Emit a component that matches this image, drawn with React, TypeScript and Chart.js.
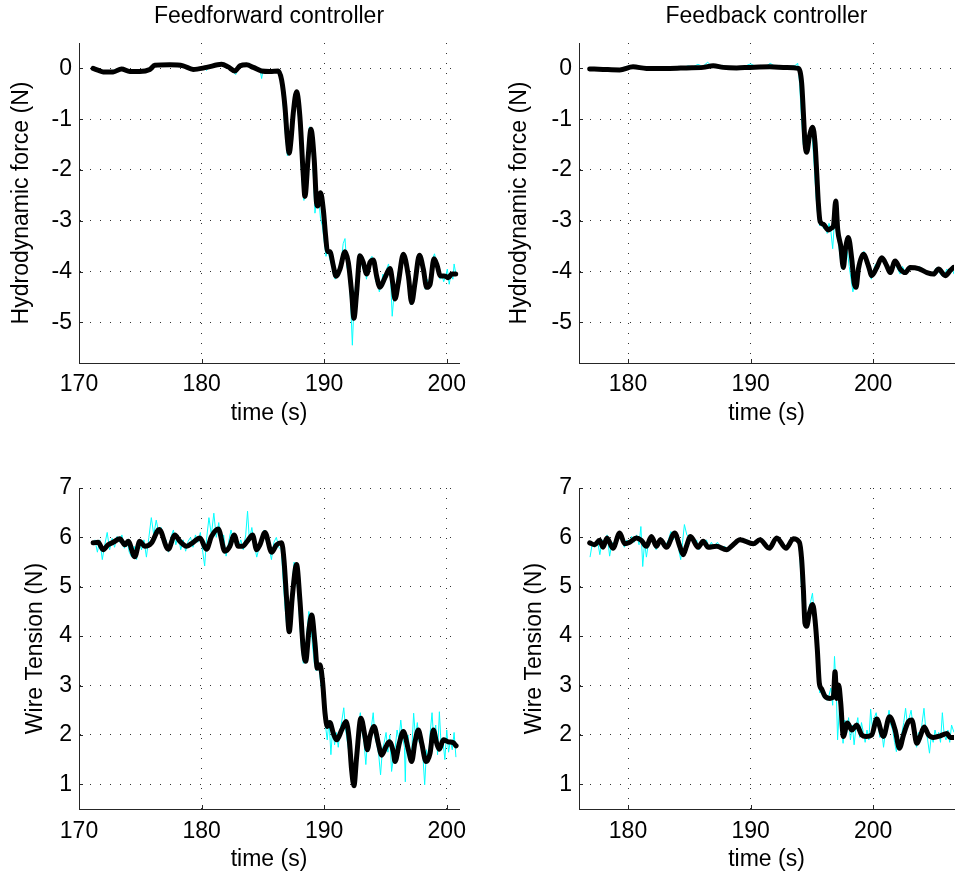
import React, { useEffect, useRef } from "react";
import { Chart, registerables } from "chart.js";

Chart.register(...registerables);

const FONT = "'Liberation Sans', Arial, Helvetica, sans-serif";
const FONT_SIZE = 23;

type Pt = [number, number];

// ---------- tick labels ----------
const ffTimeTicks = [170, 180, 190, 200];
const fbTimeTicks = [180, 190, 200];
const forceTicks = [-5, -4, -3, -2, -1, 0];
const tensionTicks = [1, 2, 3, 4, 5, 6, 7];

// ---------- Feedforward: hydrodynamic force ----------
const ffForceFiltered: Pt[] = [
  [171.15, 0.0], [171.6, -0.04], [171.97, -0.07], [172.4, -0.07], [172.79, -0.07], [173.47, -0.01],
  [174.15, -0.06], [174.96, -0.06], [175.78, -0.02], [176.19, 0.06], [177.41, 0.07], [178.5, 0.05],
  [179.32, -0.02], [180.4, 0.02], [181.63, 0.08], [182.17, 0.03], [182.72, -0.05], [183.13, 0.05],
  [183.67, 0.07], [184.22, 0.02], [184.89, -0.05], [185.58, -0.06], [186.26, -0.05], [186.53, -0.23],
  [186.8, -0.75], [187.0, -1.4], [187.15, -1.67], [187.3, -1.4], [187.48, -0.88], [187.75, -0.46],
  [188.02, -0.95], [188.3, -2.12], [188.43, -2.52], [188.7, -1.73], [188.92, -1.2], [189.19, -1.8],
  [189.38, -2.65], [189.47, -2.71], [189.71, -2.45], [189.93, -2.78], [190.12, -3.3], [190.26, -3.6],
  [190.47, -3.61], [190.75, -3.89], [190.96, -4.09], [191.29, -3.95], [191.7, -3.61], [191.97, -3.82],
  [192.24, -4.41], [192.43, -4.92], [192.65, -4.41], [192.92, -3.69], [193.19, -3.82], [193.47, -4.05],
  [193.74, -3.82], [194.01, -3.77], [194.28, -4.09], [194.55, -4.31], [194.96, -4.12], [195.37, -3.94],
  [195.59, -4.22], [195.78, -4.54], [196.05, -4.22], [196.46, -3.66], [196.87, -4.09], [197.14, -4.61],
  [197.41, -4.22], [197.77, -3.68], [198.09, -3.95], [198.36, -4.31], [198.64, -4.25], [198.96, -3.75],
  [199.23, -3.89], [199.45, -4.08], [199.86, -4.09], [200.13, -4.12], [200.41, -4.05], [200.73, -4.05],
];
const ffForceMeasured: Pt[] = [
  [171.1, 0.01], [171.4, -0.03], [171.7, -0.06], [172.0, -0.05], [172.3, -0.08], [172.6, -0.06],
  [172.9, -0.03], [173.2, -0.02], [173.5, 0.01], [173.8, -0.04], [174.1, -0.07], [174.4, -0.05],
  [174.7, -0.07], [175.0, -0.04], [175.3, -0.05], [175.6, -0.01], [175.9, 0.0], [176.2, 0.07],
  [176.5, 0.05], [176.8, 0.08], [177.1, 0.06], [177.4, 0.09], [177.7, 0.05], [178.0, 0.07],
  [178.3, 0.04], [178.6, 0.06], [178.9, 0.01], [179.2, -0.03], [179.5, 0.0], [179.8, -0.01],
  [180.1, 0.03], [180.4, -0.04], [180.7, 0.05], [181.0, 0.04], [181.3, 0.09], [181.6, 0.11],
  [181.9, 0.06], [182.2, 0.02], [182.5, -0.06], [182.8, -0.12], [183.0, 0.04], [183.3, 0.08],
  [183.6, 0.06], [183.9, 0.1], [184.2, 0.02], [184.5, -0.02], [184.8, -0.07], [184.9, -0.2],
  [185.0, -0.05], [185.3, -0.06], [185.6, -0.08], [185.9, -0.04], [186.2, -0.07], [186.4, -0.15],
  [186.6, -0.55], [186.8, -1.2], [187.0, -1.72], [187.1, -1.6], [187.3, -1.2], [187.5, -0.65],
  [187.65, -0.45], [187.8, -0.6], [188.0, -1.3], [188.2, -2.25], [188.35, -2.6], [188.5, -2.3],
  [188.65, -1.5], [188.8, -1.15], [188.95, -1.3], [189.1, -2.0], [189.25, -2.85], [189.4, -2.55],
  [189.55, -2.5], [189.7, -2.95], [189.85, -3.1], [190.0, -3.4], [190.15, -3.7], [190.3, -3.55],
  [190.45, -3.75], [190.6, -3.85], [190.75, -4.05], [190.9, -4.15], [191.05, -4.0], [191.2, -3.95],
  [191.4, -3.8], [191.55, -3.45], [191.7, -3.35], [191.85, -3.9], [192.0, -4.05], [192.15, -4.55],
  [192.3, -5.45], [192.4, -4.85], [192.55, -4.3], [192.7, -3.95], [192.85, -3.65], [193.0, -3.75],
  [193.15, -3.95], [193.3, -3.85], [193.45, -4.15], [193.6, -3.9], [193.75, -3.75], [193.9, -3.7],
  [194.05, -3.85], [194.2, -4.2], [194.35, -4.2], [194.5, -4.4], [194.65, -4.25], [194.8, -4.05],
  [194.95, -4.2], [195.1, -3.95], [195.25, -3.85], [195.4, -4.05], [195.55, -4.88], [195.7, -4.45],
  [195.85, -4.35], [196.0, -4.05], [196.15, -3.9], [196.3, -3.7], [196.45, -3.62], [196.6, -3.85],
  [196.75, -4.1], [196.9, -4.3], [197.05, -4.65], [197.2, -4.5], [197.35, -4.3], [197.5, -4.0],
  [197.65, -3.7], [197.8, -3.65], [197.95, -3.85], [198.1, -4.05], [198.25, -4.35], [198.4, -4.15],
  [198.55, -4.3], [198.7, -4.1], [198.85, -3.75], [199.0, -3.65], [199.15, -3.8], [199.3, -3.95],
  [199.45, -4.15], [199.6, -4.05], [199.75, -4.2], [199.9, -4.1], [200.05, -3.95], [200.2, -4.25],
  [200.35, -4.05], [200.5, -4.15], [200.6, -3.85], [200.75, -4.05],
];

// ---------- Feedback: hydrodynamic force ----------
const fbForceFiltered: Pt[] = [
  [176.87, -0.01], [177.96, -0.02], [179.32, -0.03], [180.41, 0.03], [181.5, 0.0], [183.41, 0.0],
  [184.77, 0.01], [186.13, 0.02], [186.95, 0.05], [187.77, 0.02], [188.86, 0.01], [189.95, 0.02],
  [191.58, 0.03], [192.94, 0.02], [193.9, 0.0], [194.17, -0.29], [194.31, -0.88], [194.44, -1.47],
  [194.58, -1.65], [194.8, -1.34], [195.07, -1.16], [195.26, -1.47], [195.4, -2.06], [195.53, -2.65],
  [195.67, -3.01], [195.94, -3.07], [196.35, -3.18], [196.62, -3.14], [196.76, -3.1], [196.95, -2.61],
  [197.11, -3.17], [197.36, -3.5], [197.57, -3.92], [197.74, -3.56], [197.98, -3.33], [198.26, -3.76],
  [198.45, -4.22], [198.61, -4.31], [198.8, -3.95], [199.21, -3.66], [199.62, -3.89], [199.89, -4.08],
  [200.3, -3.92], [200.71, -3.73], [201.12, -3.89], [201.39, -4.02], [201.8, -3.79], [202.21, -3.95],
  [202.62, -4.02], [203.02, -3.92], [203.71, -3.94], [204.39, -4.02], [204.93, -4.05], [205.34, -3.95],
  [205.89, -4.08], [206.29, -3.98], [206.55, -3.92],
];
const fbForceMeasured: Pt[] = [
  [176.9, -0.01], [177.3, -0.03], [177.7, 0.0], [178.1, -0.04], [178.5, -0.02], [178.9, -0.04],
  [179.3, -0.02], [179.7, 0.02], [180.1, 0.05], [180.5, 0.02], [180.9, 0.01], [181.3, -0.01],
  [181.7, 0.01], [182.1, -0.01], [182.5, 0.02], [182.9, 0.0], [183.3, 0.03], [183.7, 0.01],
  [184.1, 0.04], [184.5, 0.02], [184.9, 0.05], [185.3, 0.03], [185.7, 0.08], [186.1, 0.04],
  [186.5, 0.12], [186.8, 0.05], [187.1, 0.08], [187.4, 0.03], [187.7, 0.06], [188.0, 0.02],
  [188.4, 0.04], [188.8, 0.01], [189.2, 0.03], [189.6, 0.05], [190.0, 0.09], [190.4, 0.04],
  [190.8, 0.06], [191.2, 0.03], [191.6, 0.1], [192.0, 0.04], [192.4, 0.06], [192.8, 0.02],
  [193.2, 0.04], [193.6, 0.05], [193.85, 0.1], [194.0, -0.3], [194.15, -0.95], [194.3, -1.5],
  [194.45, -1.6], [194.6, -1.55], [194.75, -1.3], [194.9, -1.2], [195.05, -1.4], [195.2, -1.95],
  [195.35, -2.55], [195.5, -2.95], [195.65, -3.1], [195.8, -3.05], [195.95, -3.15], [196.1, -3.1],
  [196.25, -3.25], [196.4, -3.05], [196.55, -3.2], [196.7, -3.55], [196.85, -3.0], [197.0, -2.8],
  [197.15, -3.4], [197.3, -3.7], [197.45, -3.95], [197.6, -3.7], [197.75, -3.45], [197.9, -3.6],
  [198.05, -3.9], [198.2, -4.15], [198.35, -4.4], [198.5, -4.2], [198.65, -4.25], [198.8, -3.85],
  [198.95, -3.7], [199.1, -3.75], [199.25, -3.6], [199.4, -3.8], [199.55, -3.95], [199.7, -4.05],
  [199.85, -4.15], [200.0, -4.0], [200.2, -3.85], [200.4, -3.9], [200.6, -3.7], [200.8, -3.8],
  [201.0, -3.85], [201.2, -4.0], [201.4, -3.95], [201.6, -3.8], [201.8, -3.85], [202.0, -3.95],
  [202.2, -4.05], [202.4, -3.9], [202.6, -4.0], [202.8, -3.95], [203.0, -3.88], [203.2, -3.95],
  [203.4, -3.92], [203.6, -3.98], [203.8, -3.9], [204.0, -4.0], [204.2, -3.95], [204.4, -4.05],
  [204.6, -4.0], [204.8, -4.08], [205.0, -3.98], [205.2, -3.92], [205.4, -4.02], [205.6, -4.08],
  [205.8, -4.1], [206.0, -3.95], [206.2, -4.0], [206.4, -3.9], [206.6, -4.05],
];

// ---------- Feedforward: wire tension ----------
const ffTensionFiltered: Pt[] = [
  [171.15, 5.89], [171.56, 5.9], [171.97, 5.75], [172.38, 5.85], [172.79, 5.9], [173.33, 5.97],
  [173.74, 5.85], [174.01, 5.92], [174.55, 5.61], [174.96, 5.92], [175.37, 5.82], [175.92, 5.89],
  [176.54, 6.16], [177.28, 5.76], [177.82, 6.05], [178.23, 5.92], [178.77, 5.82], [179.32, 5.9],
  [179.86, 5.99], [180.4, 5.76], [180.81, 6.02], [181.36, 6.17], [181.9, 5.72], [182.31, 5.82],
  [182.66, 6.05], [182.99, 5.82], [183.34, 5.82], [183.81, 5.95], [184.16, 6.05], [184.49, 5.75],
  [184.76, 5.85], [185.17, 6.1], [185.71, 5.7], [186.12, 5.85], [186.53, 5.89], [186.72, 5.55],
  [186.94, 4.74], [187.15, 4.09], [187.4, 4.8], [187.75, 5.45], [188.02, 4.74], [188.3, 3.72],
  [188.49, 3.49], [188.76, 4.13], [188.98, 4.43], [189.25, 3.86], [189.44, 3.35], [189.66, 3.42],
  [189.88, 3.05], [190.07, 2.44], [190.26, 2.17], [190.47, 2.25], [190.75, 2.03], [191.02, 1.9],
  [191.43, 2.1], [191.78, 2.27], [192.05, 1.9], [192.24, 1.29], [192.43, 0.97], [192.65, 1.56],
  [193.0, 2.34], [193.33, 1.97], [193.52, 1.7], [193.74, 1.97], [194.07, 2.17], [194.42, 1.83],
  [194.69, 1.59], [195.04, 1.76], [195.32, 1.86], [195.64, 1.66], [195.78, 1.46], [196.13, 1.83],
  [196.46, 2.07], [196.87, 1.7], [197.14, 1.46], [197.41, 1.86], [197.68, 2.1], [197.96, 1.83],
  [198.31, 1.46], [198.64, 1.63], [198.91, 2.1], [199.18, 1.83], [199.4, 1.71], [199.72, 1.9],
  [200.13, 1.86], [200.54, 1.84], [200.76, 1.78],
];
const ffTensionMeasured: Pt[] = [
  [171.1, 5.85], [171.3, 5.95], [171.5, 5.7], [171.7, 5.95], [171.9, 5.55], [172.1, 5.85],
  [172.3, 6.1], [172.5, 5.75], [172.7, 5.98], [172.9, 5.8], [173.1, 6.02], [173.3, 5.9],
  [173.5, 6.05], [173.7, 5.78], [173.9, 5.95], [174.1, 5.7], [174.3, 5.6], [174.5, 5.82],
  [174.7, 5.55], [174.9, 5.95], [175.1, 5.75], [175.3, 5.95], [175.5, 5.6], [175.7, 6.0],
  [175.9, 6.4], [176.1, 6.05], [176.3, 6.35], [176.5, 6.1], [176.7, 6.2], [176.9, 5.85],
  [177.1, 5.95], [177.3, 5.7], [177.5, 6.0], [177.7, 6.15], [177.9, 5.85], [178.1, 6.05],
  [178.3, 5.75], [178.5, 5.95], [178.7, 5.72], [178.9, 5.92], [179.1, 6.0], [179.3, 5.8],
  [179.5, 6.05], [179.7, 5.9], [179.9, 6.1], [180.1, 5.7], [180.25, 5.42], [180.4, 5.95],
  [180.6, 6.4], [180.8, 6.05], [181.0, 6.49], [181.2, 6.0], [181.4, 6.3], [181.6, 5.85],
  [181.8, 6.05], [182.0, 5.62], [182.2, 5.9], [182.4, 6.15], [182.6, 5.95], [182.8, 6.0],
  [183.0, 5.8], [183.2, 5.95], [183.4, 5.75], [183.6, 6.05], [183.75, 6.53], [183.9, 5.95],
  [184.1, 6.2], [184.3, 5.85], [184.5, 5.6], [184.7, 5.8], [184.9, 6.0], [185.1, 6.15],
  [185.3, 5.9], [185.5, 5.8], [185.7, 5.55], [185.9, 5.9], [186.1, 6.0], [186.3, 5.8],
  [186.5, 5.75], [186.65, 5.15], [186.8, 4.6], [186.95, 4.2], [187.1, 4.15], [187.25, 4.55],
  [187.4, 5.1], [187.55, 5.5], [187.7, 5.3], [187.85, 4.9], [188.0, 4.3], [188.15, 3.75],
  [188.3, 3.45], [188.45, 3.6], [188.6, 4.1], [188.75, 4.5], [188.9, 4.3], [189.05, 3.8],
  [189.2, 3.45], [189.35, 3.3], [189.5, 3.5], [189.65, 3.2], [189.8, 2.9], [189.95, 2.5],
  [190.1, 2.2], [190.25, 1.9], [190.4, 2.3], [190.55, 1.6], [190.7, 2.15], [190.85, 1.8],
  [191.0, 2.05], [191.15, 1.75], [191.3, 2.1], [191.45, 2.3], [191.6, 2.55], [191.75, 2.1],
  [191.9, 1.85], [192.05, 1.6], [192.2, 1.25], [192.35, 1.02], [192.5, 1.3], [192.65, 1.8],
  [192.8, 2.2], [192.95, 2.45], [193.1, 2.05], [193.25, 1.85], [193.4, 1.4], [193.55, 1.95],
  [193.7, 1.75], [193.85, 2.15], [194.0, 2.45], [194.15, 1.95], [194.3, 1.8], [194.45, 1.6],
  [194.6, 1.19], [194.75, 1.7], [194.9, 1.85], [195.05, 2.05], [195.2, 1.65], [195.35, 2.0],
  [195.5, 1.26], [195.65, 1.55], [195.8, 1.75], [195.95, 2.1], [196.1, 1.9], [196.25, 2.3],
  [196.4, 1.95], [196.55, 1.75], [196.62, 1.05], [196.7, 1.95], [196.85, 2.0], [197.0, 1.55],
  [197.15, 1.7], [197.3, 2.44], [197.45, 1.95], [197.6, 2.25], [197.75, 1.85], [197.9, 2.05],
  [198.05, 1.6], [198.2, 0.99], [198.35, 1.7], [198.5, 1.45], [198.65, 2.05], [198.8, 2.45],
  [198.95, 1.85], [199.1, 2.2], [199.25, 1.6], [199.4, 2.47], [199.55, 1.75], [199.7, 1.85],
  [199.85, 1.5], [200.0, 2.1], [200.15, 1.65], [200.3, 1.9], [200.45, 1.7], [200.6, 2.05],
  [200.75, 1.55],
];

// ---------- Feedback: wire tension ----------
const fbTensionFiltered: Pt[] = [
  [176.87, 5.89], [177.28, 5.85], [177.68, 5.94], [177.96, 5.8], [178.28, 5.99], [178.77, 5.78],
  [179.32, 6.09], [179.73, 5.87], [180.14, 5.9], [180.68, 5.99], [181.09, 5.94], [181.5, 5.82],
  [181.91, 6.02], [182.32, 5.82], [182.64, 5.95], [183.13, 5.8], [183.81, 6.09], [184.22, 5.82],
  [184.5, 5.65], [184.77, 5.82], [185.1, 6.02], [185.72, 5.8], [186.13, 5.92], [186.54, 5.8],
  [187.22, 5.82], [188.04, 5.75], [188.58, 5.85], [189.13, 5.95], [190.22, 5.87], [190.76, 5.95],
  [191.53, 5.78], [192.13, 5.99], [192.89, 5.78], [193.49, 5.97], [193.98, 5.9], [194.17, 5.55],
  [194.31, 4.94], [194.44, 4.26], [194.58, 4.2], [194.8, 4.47], [195.07, 4.64], [195.26, 4.33],
  [195.45, 3.72], [195.61, 3.05], [195.8, 2.93], [196.08, 2.78], [196.49, 2.74], [196.76, 2.78],
  [196.89, 3.28], [197.03, 2.74], [197.19, 3.01], [197.36, 2.64], [197.57, 1.97], [197.9, 2.24],
  [198.26, 2.1], [198.66, 2.2], [199.07, 2.0], [199.43, 1.97], [199.89, 2.0], [200.3, 2.32],
  [200.84, 1.97], [201.34, 2.37], [201.8, 2.1], [202.15, 1.73], [202.48, 2.0], [202.89, 2.27],
  [203.16, 2.3], [203.57, 1.83], [203.84, 1.97], [204.17, 2.16], [204.52, 2.0], [204.93, 1.95],
  [205.48, 1.98], [206.02, 2.03], [206.29, 1.95], [206.6, 1.95],
];
const fbTensionMeasured: Pt[] = [
  [176.9, 5.6], [177.1, 5.9], [177.3, 5.8], [177.5, 5.95], [177.7, 5.65], [177.9, 5.95],
  [178.1, 5.85], [178.3, 6.05], [178.5, 5.62], [178.7, 5.9], [178.9, 5.8], [179.1, 6.0],
  [179.3, 6.12], [179.5, 5.95], [179.7, 5.8], [179.9, 5.95], [180.1, 5.85], [180.3, 6.02],
  [180.5, 5.9], [180.7, 6.05], [180.9, 5.85], [181.05, 6.22], [181.2, 5.41], [181.35, 5.9],
  [181.5, 5.6], [181.7, 5.95], [181.9, 6.05], [182.1, 5.85], [182.3, 5.75], [182.5, 5.95],
  [182.7, 5.9], [182.9, 5.8], [183.1, 5.85], [183.3, 5.95], [183.5, 6.12], [183.7, 5.95],
  [183.9, 6.1], [184.1, 5.8], [184.3, 5.55], [184.45, 5.9], [184.6, 6.26], [184.8, 6.05],
  [185.0, 6.0], [185.2, 5.95], [185.4, 5.85], [185.6, 5.95], [185.8, 5.75], [186.0, 5.9],
  [186.2, 5.85], [186.4, 5.95], [186.6, 5.8], [186.8, 5.9], [187.0, 5.82], [187.3, 5.9],
  [187.6, 5.78], [187.9, 5.82], [188.2, 5.72], [188.5, 5.85], [188.8, 5.9], [189.1, 5.98],
  [189.4, 5.92], [189.7, 5.95], [190.0, 5.9], [190.3, 5.85], [190.6, 5.92], [190.9, 5.98],
  [191.2, 5.9], [191.5, 5.8], [191.8, 5.9], [192.1, 6.02], [192.4, 5.9], [192.7, 5.8],
  [193.0, 5.85], [193.3, 5.98], [193.6, 5.95], [193.85, 5.98], [194.0, 5.7], [194.15, 5.0],
  [194.3, 4.4], [194.45, 4.25], [194.6, 4.35], [194.75, 4.55], [194.9, 4.7], [195.05, 4.87],
  [195.2, 4.45], [195.35, 3.8], [195.5, 3.1], [195.65, 2.85], [195.8, 2.9], [195.95, 2.75],
  [196.1, 2.85], [196.25, 2.7], [196.4, 2.8], [196.55, 2.95], [196.7, 2.6], [196.85, 3.59],
  [197.0, 2.85], [197.1, 1.9], [197.25, 2.54], [197.4, 2.2], [197.55, 1.83], [197.7, 2.3],
  [197.85, 2.05], [198.0, 2.35], [198.15, 1.9], [198.3, 2.2], [198.45, 1.8], [198.6, 2.15],
  [198.75, 2.35], [198.9, 1.95], [199.05, 2.25], [199.2, 2.05], [199.35, 1.85], [199.5, 2.1],
  [199.65, 1.9], [199.8, 2.52], [199.95, 2.1], [200.1, 2.35], [200.25, 2.45], [200.4, 2.2],
  [200.55, 1.95], [200.7, 2.1], [200.85, 1.75], [201.0, 2.05], [201.15, 2.3], [201.3, 2.5],
  [201.45, 2.2], [201.6, 2.1], [201.75, 1.85], [201.9, 1.66], [202.05, 1.95], [202.2, 1.8],
  [202.35, 2.05], [202.5, 2.25], [202.65, 2.54], [202.8, 2.2], [202.95, 2.35], [203.1, 2.5],
  [203.25, 2.2], [203.4, 1.9], [203.55, 1.75], [203.7, 2.05], [203.85, 1.9], [204.0, 2.25],
  [204.15, 2.54], [204.3, 2.1], [204.45, 1.9], [204.6, 1.63], [204.75, 2.0], [204.9, 1.85],
  [205.05, 2.1], [205.2, 1.95], [205.35, 2.05], [205.5, 1.85], [205.65, 2.45], [205.8, 2.0],
  [205.95, 1.9], [206.1, 2.1], [206.25, 1.85], [206.4, 2.2], [206.6, 2.05],
];

// ---------- layout ----------
const CW = 478;
const CH = 437;

type PanelProps = {
  left: number;
  top: number;
  title?: string;
  yLabel: string;
  xMin: number;
  xMax: number;
  yMin: number;
  yMax: number;
  xTicks: number[];
  yTicks: number[];
  measured: Pt[];
  filtered: Pt[];
  area: { l: number; t: number; r: number; b: number };
  yTitleOffset: number;
  xTickPad: number;
  xTitleCenter: number;
};

const AXIS_COLOR = "#262626";

const insideTicks = {
  id: "insideTicks",
  beforeDatasetsDraw(chart: any) {
    const { ctx, chartArea: a, scales } = chart;
    const x = scales.x;
    const y = scales.y;
    ctx.save();
    ctx.strokeStyle = AXIS_COLOR;
    ctx.lineWidth = 1;
    ctx.beginPath();
    x.ticks.forEach((t: any) => {
      const px = Math.round(x.getPixelForValue(t.value)) + 0.5;
      ctx.moveTo(px, a.bottom);
      ctx.lineTo(px, a.bottom - 4);
    });
    y.ticks.forEach((t: any) => {
      const py = Math.round(y.getPixelForValue(t.value)) + 0.5;
      ctx.moveTo(a.left, py);
      ctx.lineTo(a.left + 4, py);
    });
    ctx.stroke();
    ctx.restore();
  },
};

const panelTitle = {
  id: "panelTitle",
  afterDraw(chart: any, _args: any, opts: any) {
    if (!opts || !opts.text) return;
    const { ctx, chartArea: a } = chart;
    ctx.save();
    ctx.font = `normal ${FONT_SIZE}px ${FONT}`;
    ctx.fillStyle = "#000";
    ctx.textAlign = "center";
    ctx.textBaseline = "middle";
    ctx.fillText(opts.text, (a.left + a.right) / 2, opts.y);
    ctx.restore();
  },
};

function toXY(a: Pt[]) {
  return a.map(([x, y]) => ({ x, y }));
}

function Panel(p: PanelProps) {
  const ref = useRef<HTMLCanvasElement>(null);
  useEffect(() => {
    const canvas = ref.current;
    if (!canvas) return;
    const font = { family: FONT, size: FONT_SIZE, weight: "normal" as const, lineHeight: 1.2 };
    const lh = FONT_SIZE * 1.2;
    const chart = new Chart(canvas, {
      type: "line",
      data: {
        datasets: [
          {
            data: toXY(p.measured),
            borderColor: "#00FFFF",
            borderWidth: 1,
            pointRadius: 0,
            tension: 0,
            order: 2,
          },
          {
            data: toXY(p.filtered),
            borderColor: "#000000",
            borderWidth: 5,
            pointRadius: 0,
            cubicInterpolationMode: "monotone",
            borderJoinStyle: "round",
            borderCapStyle: "round",
            order: 1,
          },
        ],
      },
      options: {
        responsive: false,
        animation: false,
        devicePixelRatio: 1,
        events: [],
        layout: {
          padding: { left: 0, right: CW - p.area.r, top: p.area.t, bottom: 0 },
        },
        plugins: {
          legend: { display: false },
          tooltip: { enabled: false },
          title: { display: false },
          panelTitle: { text: p.title || "", y: 16.5 },
        },
        scales: {
          x: {
            type: "linear",
            min: p.xMin,
            max: p.xMax,
            afterBuildTicks: (s: any) => {
              s.ticks = p.xTicks.map((v) => ({ value: v }));
            },
            afterFit: (s: any) => {
              s.height = CH - p.area.b;
            },
            ticks: {
              color: "#000",
              font,
              padding: p.xTickPad,
              maxRotation: 0,
              autoSkip: false,
              callback: (v: any) => String(v),
            },
            grid: { color: "#333", lineWidth: 1, drawTicks: false },
            border: { display: true, color: AXIS_COLOR, width: 1, dash: [1, 9] },
            title: {
              display: true,
              text: "time (s)",
              color: "#000",
              font,
              padding: { top: 0, bottom: CH - p.xTitleCenter - lh / 2 },
            },
          },
          y: {
            type: "linear",
            min: p.yMin,
            max: p.yMax,
            afterBuildTicks: (s: any) => {
              s.ticks = p.yTicks.map((v) => ({ value: v }));
            },
            afterFit: (s: any) => {
              s.width = p.area.l;
            },
            ticks: {
              color: "#000",
              font,
              padding: 7,
              autoSkip: false,
              callback: (v: any) => String(v),
            },
            grid: { color: "#333", lineWidth: 1, drawTicks: false },
            border: { display: true, color: AXIS_COLOR, width: 1, dash: [1, 9] },
            title: {
              display: true,
              text: p.yLabel,
              color: "#000",
              font,
              padding: { top: p.yTitleOffset, bottom: 0 },
            },
          },
        },
      },
      plugins: [insideTicks, panelTitle],
    } as any);
    return () => chart.destroy();
  }, []);
  return (
    <canvas
      ref={ref}
      width={CW}
      height={CH}
      style={{ position: "absolute", left: p.left, top: p.top, width: CW, height: CH }}
    />
  );
}

export default function App() {
  return (
    <div
      style={{
        position: "absolute",
        left: 0,
        top: 0,
        width: 956,
        height: 874,
        background: "#fff",
        overflow: "hidden",
      }}
    >
      <Panel
        left={0}
        top={0}
        title="Feedforward controller"
        yLabel="Hydrodynamic force (N)"
        xMin={170}
        xMax={201}
        yMin={-5.8}
        yMax={0.5}
        xTicks={ffTimeTicks}
        yTicks={forceTicks}
        measured={ffForceMeasured}
        filtered={ffForceFiltered}
        area={{ l: 79, t: 43, r: 459, b: 363 }}
        yTitleOffset={8.2}
        xTickPad={8}
        xTitleCenter={413.3}
      />
      <Panel
        left={478}
        top={0}
        title="Feedback controller"
        yLabel="Hydrodynamic force (N)"
        xMin={176}
        xMax={206.6}
        yMin={-5.8}
        yMax={0.5}
        xTicks={fbTimeTicks}
        yTicks={forceTicks}
        measured={fbForceMeasured}
        filtered={fbForceFiltered}
        area={{ l: 101, t: 43, r: 476, b: 363 }}
        yTitleOffset={28}
        xTickPad={8}
        xTitleCenter={413.3}
      />
      <Panel
        left={0}
        top={437}
        yLabel="Wire Tension (N)"
        xMin={170}
        xMax={201}
        yMin={0.5}
        yMax={7}
        xTicks={ffTimeTicks}
        yTicks={tensionTicks}
        measured={ffTensionMeasured}
        filtered={ffTensionFiltered}
        area={{ l: 79, t: 51, r: 459, b: 372 }}
        yTitleOffset={21.9}
        xTickPad={9}
        xTitleCenter={422.3}
      />
      <Panel
        left={478}
        top={437}
        yLabel="Wire Tension (N)"
        xMin={176}
        xMax={206.6}
        yMin={0.5}
        yMax={7}
        xTicks={fbTimeTicks}
        yTicks={tensionTicks}
        measured={fbTensionMeasured}
        filtered={fbTensionFiltered}
        area={{ l: 101, t: 51, r: 476, b: 372 }}
        yTitleOffset={43}
        xTickPad={9}
        xTitleCenter={422.3}
      />
    </div>
  );
}
